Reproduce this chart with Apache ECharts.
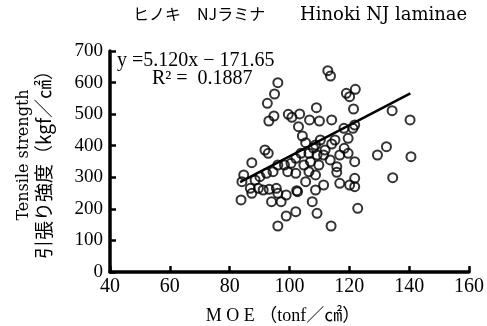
<!DOCTYPE html>
<html><head><meta charset="utf-8">
<script src="https://cdn.jsdelivr.net/npm/echarts@6/dist/echarts.min.js"></script>
<style>html,body{margin:0;padding:0;background:#fff}#c{width:487px;height:326px}</style>
</head><body><div id="c"></div>
<script>
// MOE (tonf/cm2) values
const moe = [112.8,113.7,96.1,95.0,92.6,94.8,93.1,99.6,100.8,103.4,106.7,110.0,109.0,114.1,119.0,122.0,120.1,121.4,134.3,140.3,
 103.0,104.3,105.4,91.8,92.9,118.2,121.2,121.8,119.6,118.3,132.4,108.7,114.1,115.2,
 103.8,106.5,109.2,111.4,116.8,119.6,121.8,107.0,109.8,115.8,115.8,106.5,108.7,105.4,102.7,111.4,108.7,116.8,120.1,121.8,121.8,107.6,109.2,122.8,113.9,102.1,
 87.4,84.7,84.1,86.9,87.4,89.6,91.2,93.2,95.6,96.1,98.9,88.5,90.1,92.3,94.5,96.1,98.3,100.5,102.1,99.4,102.1,102.4,83.8,94.0,97.2,98.9,96.1,
 129.4,140.6,134.5,108.0,111.9,110.3,113.6,104.8];
// Tensile strength (kgf/cm2) values
const strength = [637.6,620.8,599.6,563.8,534.4,494.1,478.3,499.5,490.0,500.5,481.5,478.3,520.4,481.5,566.0,578.7,555.3,516.3,510.9,481.5,
 460.2,430.8,409.6,386.4,376.0,455.2,455.2,465.6,423.5,391.8,396.9,402.3,405.4,418.1,
 376.0,376.0,370.6,370.6,370.6,376.0,349.4,349.4,338.9,333.5,315.8,317.7,307.3,286.0,254.4,275.6,259.7,281.0,275.6,270.2,296.8,222.7,185.9,201.8,145.7,191.0,
 346.2,307.3,286.0,265.1,249.3,265.1,259.7,262.0,265.1,249.3,243.9,291.4,301.9,312.6,317.7,338.9,338.9,344.3,360.1,317.7,312.6,257.5,228.1,222.7,222.7,177.4,145.7,
 370.6,365.2,298.7,392.8,386.4,418.1,354.8,338.9];
// regression line end points as drawn
const lineX = [83.5, 140.4];
const lineY = [285, 566];
const xTicks = [40, 60, 80, 100, 120, 140, 160];
const yTicks = [0, 100, 200, 300, 400, 500, 600, 700];

const chart = echarts.init(document.getElementById('c'));
const serif = "'Liberation Serif', 'Noto Sans CJK JP', serif";
const axisCommon = {
  axisLine: {show: true, lineStyle: {color: '#000', width: 3.5}},
  axisTick: {show: true, inside: true, length: 6, lineStyle: {color: '#000', width: 2.5}},
  splitLine: {show: false}
};
chart.setOption({
  animation: false,
  backgroundColor: '#fff',
  grid: {left: 110, right: 10, top: 51, bottom: 54},
  xAxis: Object.assign({
    type: 'value', min: xTicks[0], max: xTicks[xTicks.length-1], interval: 20,
    axisLabel: {color: '#000', fontSize: 20, fontFamily: serif, margin: 5}
  }, axisCommon),
  yAxis: Object.assign({
    type: 'value', min: yTicks[0], max: yTicks[yTicks.length-1], interval: 100,
    axisLabel: {color: '#000', fontSize: 19, fontFamily: serif, margin: 7}
  }, axisCommon),
  series: [
    {type: 'scatter', data: moe.map((v,i)=>[v, strength[i]]), symbol: 'circle', symbolSize: 9,
     itemStyle: {color: 'rgba(255,255,255,0)', borderColor: '#000', borderWidth: 2}, z: 2},
    {type: 'line', data: lineX.map((v,i)=>[v, lineY[i]]), symbol: 'none',
     lineStyle: {color: '#000', width: 2.5}, z: 3}
  ],
  graphic: [
    {type: 'text', left: 133, top: 6, style: {text: 'ヒノキ　NJラミナ', font: "16px 'Noto Sans CJK JP'", fill: '#000'}},
    {type: 'text', left: 300, top: 6, style: {text: 'Hinoki NJ laminae', font: "18px 'DejaVu Serif'", fill: '#000'}},
    {type: 'text', left: 117, top: 51, style: {text: 'y =5.120x − 171.65', font: "20px 'Liberation Serif'", fill: '#000'}},
    {type: 'text', left: 152, top: 69, style: {text: 'R² =  0.1887', font: "20px 'Liberation Serif'", fill: '#000'}},
    {type: 'text', x: 283, y: 316, style: {text: 'M O E （tonf／㎠）', font: "18px 'Liberation Serif', 'Noto Sans CJK JP'", fill: '#000', align: 'center', verticalAlign: 'middle'}},
    {type: 'text', x: 24, y: 155, rotation: Math.PI/2, style: {text: 'Tensile strength', font: "16px 'DejaVu Serif'", fill: '#000', align: 'center', verticalAlign: 'middle'}},
    {type: 'text', x: 44, y: 160, rotation: Math.PI/2, style: {text: '引張り強度（kgf／㎠）', font: "19px 'Noto Sans CJK JP'", fill: '#000', align: 'center', verticalAlign: 'middle'}}
  ]
});
</script></body></html>
